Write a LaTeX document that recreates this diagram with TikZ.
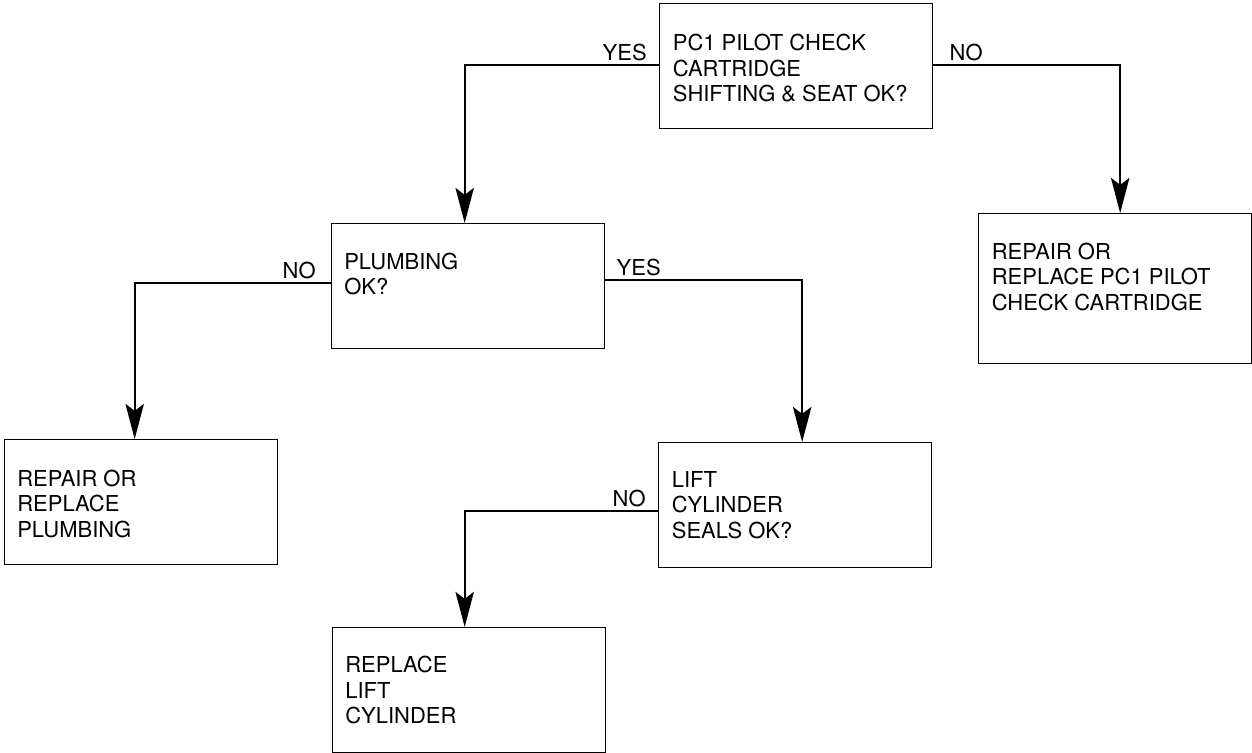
\documentclass[tikz,border=0pt]{standalone}
\usepackage{fontspec}
\setmainfont{TeX Gyre Heros}
\usepackage{tikz}
\usetikzlibrary{arrows.meta,positioning,calc}

\begin{document}
\begin{tikzpicture}[x=0.02cm, y=-0.02cm,
        box/.style={draw, line width=0.8pt, anchor=north west, minimum width=5.46cm, minimum height=2.5cm, inner sep=0pt},
        txt/.style={anchor=north west, align=left, inner sep=0pt, font=\fontsize{12.5}{14.5}\selectfont},
        tag/.style={inner sep=0pt, font=\fontsize{12.5}{14.5}\selectfont},
        flow/.style={line width=1pt, -{Stealth[length=20pt, width=10.5pt, inset=4pt]}}]
            \useasboundingbox (0,0) rectangle (1252,752);

            % Boxes
            \node[box] (pilot) at (659,3) {};
            \node[box, minimum height=3cm] (fixpilot) at (978,213) {};
            \node[box] (plumb) at (331,223) {};
            \node[box] (fixplumb) at (4,439) {};
            \node[box] (seals) at (658,442) {};
            \node[box] (fixcyl) at (332,627) {};

            % Box texts
            \node[txt] (pilottxt) at ([xshift=0.27cm, yshift=-0.62cm]pilot.north west) {PC1 PILOT CHECK\\CARTRIDGE\\SHIFTING \& SEAT OK?};
            \node[txt] (fixpilottxt) at ([xshift=0.27cm, yshift=-0.59cm]fixpilot.north west) {REPAIR OR\\REPLACE PC1 PILOT\\CHECK CARTRIDGE};
            \node[txt] (plumbtxt) at ([xshift=0.26cm, yshift=-0.59cm]plumb.north west) {PLUMBING\\OK?};
            \node[txt] (fixplumbtxt) at ([xshift=0.26cm, yshift=-0.61cm]fixplumb.north west) {REPAIR OR\\REPLACE\\PLUMBING};
            \node[txt] (sealstxt) at ([xshift=0.27cm, yshift=-0.58cm]seals.north west) {LIFT\\CYLINDER\\SEALS OK?};
            \node[txt] (fixcyltxt) at ([xshift=0.26cm, yshift=-0.58cm]fixcyl.north west) {REPLACE\\LIFT\\CYLINDER};

            % Connectors
            \draw[flow] ([yshift=0.03cm]pilot.west) -| ([xshift=-0.07cm]plumb.north);
            \draw[flow] ([yshift=0.03cm]pilot.east) -| ([xshift=0.1cm]fixpilot.north);
            \draw[flow] ([yshift=0.06cm]plumb.west) -| ([xshift=-0.13cm]fixplumb.north);
            \draw[flow] ([yshift=0.12cm]plumb.east) -| ([xshift=0.14cm]seals.north);
            \draw[flow] ([yshift=-0.12cm]seals.west) -| ([xshift=-0.09cm]fixcyl.north);

            % Answers
            \node[tag, anchor=south east] (yespilot) at ([xshift=-0.24cm, yshift=0.1cm]pilot.west) {YES};
            \node[tag, anchor=south west] (nopilot) at ([xshift=0.32cm, yshift=0.1cm]pilot.east) {NO};
            \node[tag, anchor=south east] (noplumb) at ([xshift=-0.3cm, yshift=0.13cm]plumb.west) {NO};
            \node[tag, anchor=south west] (yesplumb) at ([xshift=0.22cm, yshift=0.19cm]plumb.east) {YES};
            \node[tag, anchor=south east] (noseals) at ([xshift=-0.24cm, yshift=-0.05cm]seals.west) {NO};
        \end{tikzpicture}
\end{document}
